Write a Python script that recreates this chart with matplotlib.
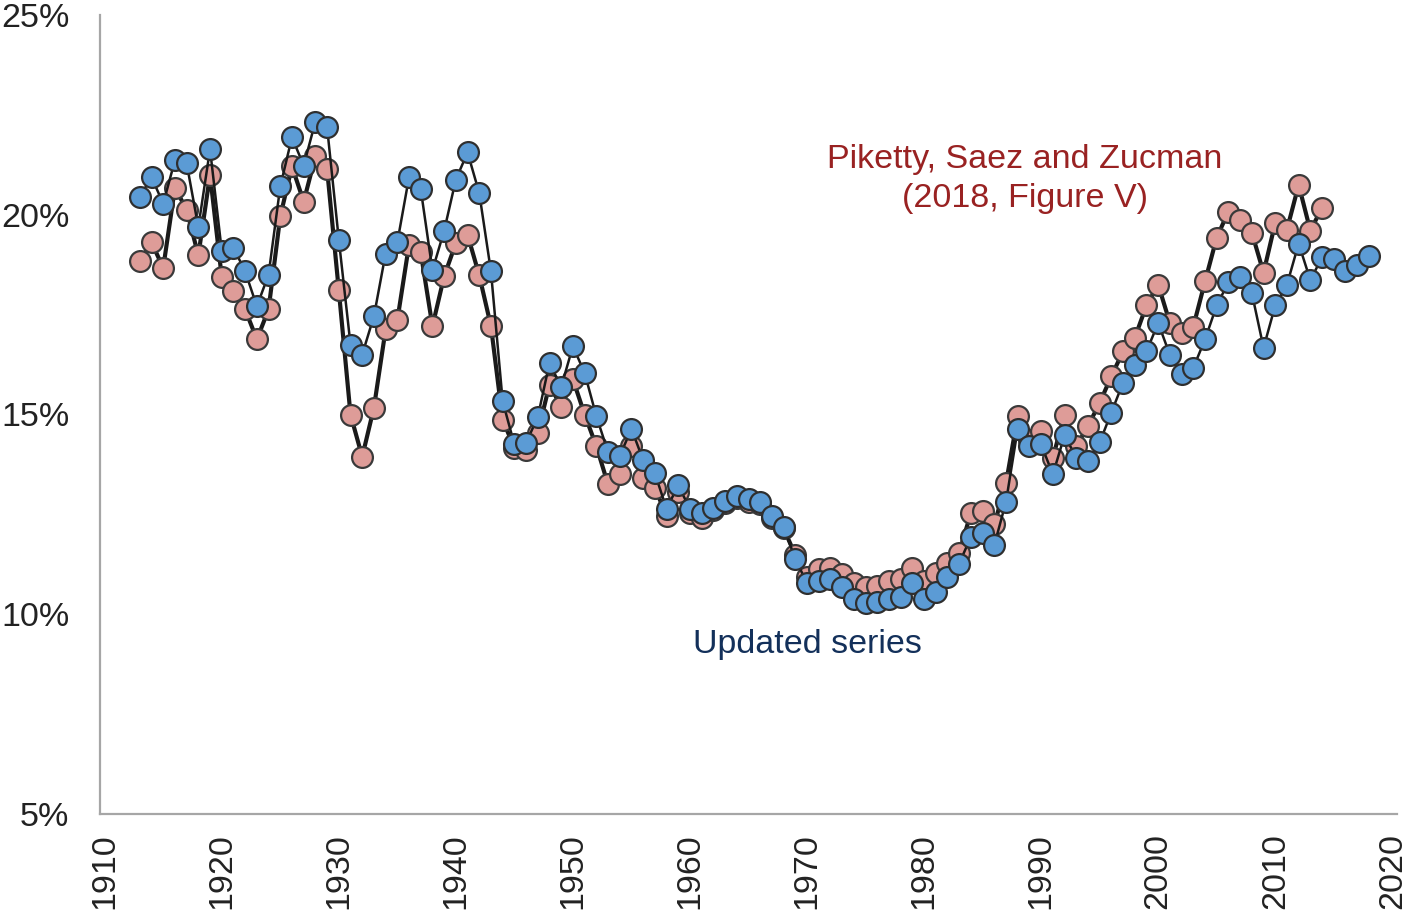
import matplotlib
matplotlib.use("Agg")
import matplotlib.pyplot as plt
from matplotlib.ticker import FuncFormatter
import numpy as np

plt.rcParams['font.family'] = ['Liberation Sans', 'DejaVu Sans']

# updated series, 1913-2018 (%)
years_upd = np.arange(1913, 2019)
upd = [20.45, 20.94, 20.28, 21.36, 21.29, 19.69, 21.64, 19.10, 19.18, 18.58,
       17.71, 18.50, 20.71, 21.94, 21.23, 22.33, 22.19, 19.38, 16.75, 16.50,
       17.46, 19.03, 19.31, 20.94, 20.64, 18.61, 19.60, 20.88, 21.56, 20.54,
       18.58, 15.33, 14.25, 14.29, 14.94, 16.29, 15.69, 16.71, 16.04, 14.96,
       14.06, 13.96, 14.64, 13.86, 13.53, 12.64, 13.23, 12.63, 12.54, 12.67,
       12.83, 12.96, 12.88, 12.81, 12.46, 12.19, 11.38, 10.78, 10.83, 10.88,
       10.69, 10.38, 10.29, 10.31, 10.38, 10.44, 10.79, 10.38, 10.56, 10.92,
       11.27, 11.94, 12.04, 11.73, 12.82, 14.64, 14.21, 14.25, 13.50, 14.48,
       13.92, 13.83, 14.30, 15.05, 15.80, 16.24, 16.58, 17.29, 16.49, 16.02,
       16.17, 16.88, 17.73, 18.31, 18.44, 18.04, 16.67, 17.73, 18.25, 19.28,
       18.36, 18.94, 18.88, 18.58, 18.75, 18.96]

# Piketty, Saez and Zucman (2018), 1913-2014 (%)
years_psz = np.arange(1913, 2015)
psz = [18.83, 19.31, 18.67, 20.67, 20.13, 18.98, 21.00, 18.44, 18.08, 17.63,
       16.88, 17.63, 19.96, 21.21, 20.33, 21.46, 21.14, 18.11, 15.00, 13.94,
       15.17, 17.13, 17.36, 19.25, 19.06, 17.21, 18.46, 19.29, 19.50, 18.48,
       17.21, 14.86, 14.17, 14.10, 14.54, 15.75, 15.19, 15.88, 15.00, 14.21,
       13.25, 13.50, 14.21, 13.42, 13.17, 12.46, 13.06, 12.54, 12.42, 12.60,
       12.78, 12.92, 12.80, 12.75, 12.40, 12.15, 11.48, 10.93, 11.13, 11.17,
       11.00, 10.79, 10.67, 10.71, 10.83, 10.88, 11.17, 10.83, 11.04, 11.29,
       11.54, 12.54, 12.58, 12.25, 13.28, 14.96, 14.35, 14.58, 13.92, 15.00,
       14.20, 14.71, 15.29, 15.96, 16.58, 16.92, 17.73, 18.25, 17.29, 17.04,
       17.20, 18.33, 19.43, 20.08, 19.88, 19.55, 18.55, 19.80, 19.63, 20.75,
       19.60, 20.18]

x_ticks = np.arange(1910, 2021, 10)
y_ticks = [5, 10, 15, 20, 25]

fig = plt.figure(figsize=(14.1, 9.14), dpi=100)
ax = fig.add_axes([100 / 1410, 100 / 914, 1297 / 1410, 799 / 914])

ax.plot(years_psz, psz, color='#1a1a1a', linewidth=3.0, marker='o',
        markersize=15, markerfacecolor='#DE9C98', markeredgecolor='#3a3a3a',
        markeredgewidth=1.6, zorder=2)
ax.plot(years_upd, upd, color='#1a1a1a', linewidth=1.8, marker='o',
        markersize=15, markerfacecolor='#5B9BD5', markeredgecolor='#2f2f2f',
        markeredgewidth=1.6, zorder=3)

ax.set_xlim(1909.6, 2020.4)
ax.set_ylim(5, 25)
ax.set_xticks(x_ticks)
ax.set_yticks(y_ticks)
ax.yaxis.set_major_formatter(FuncFormatter(lambda v, p: f'{v:.0f}%'))
ax.tick_params(axis='both', length=0, labelsize=24.5, labelcolor='#222222')
ax.tick_params(axis='y', pad=22)
ax.tick_params(axis='x', pad=14, labelrotation=90)

for s in ['top', 'right']:
    ax.spines[s].set_visible(False)
for s in ['left', 'bottom']:
    ax.spines[s].set_color('#a6a6a6')
    ax.spines[s].set_linewidth(1.6)

ax.text(1988.6, 20.9, 'Piketty, Saez and Zucman\n(2018, Figure V)',
        ha='center', va='center', fontsize=24.5, color='#992222',
        multialignment='center', linespacing=1.33)
ax.text(1970.0, 9.25, 'Updated series', ha='center', va='center',
        fontsize=24.5, color='#13305a')

fig.savefig('out.png', dpi=100)
